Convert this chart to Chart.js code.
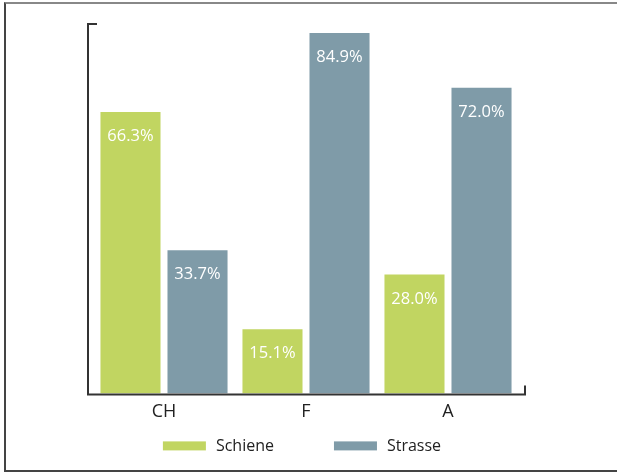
<!DOCTYPE html>
<html>
<head>
<meta charset="utf-8">
<script src="https://cdn.jsdelivr.net/npm/chart.js@4"></script>
<style>
  html, body { margin: 0; padding: 0; background: #fff; overflow: hidden; width: 617px; height: 472px; }
  #frame {
    position: absolute; left: 4px; top: 2px; width: 613px; height: 466px;
    border-left: 2px solid #444; border-top: 2px solid #888; border-bottom: 2px solid #444;
  }
  #wrap { position: absolute; left: 0; top: 0; width: 617px; height: 472px; }
</style>
</head>
<body>
<div id="frame"></div>
<div id="wrap"><canvas id="productChart" width="617" height="472"></canvas></div>
<script>
// Daten
const categories = ['CH', 'F', 'A'];
const schieneValues = [66.3, 15.1, 28.0];
const strasseValues = [33.7, 84.9, 72.0];
const seriesNames = ['Schiene', 'Strasse'];

document.addEventListener('DOMContentLoaded', function() {
    // Achsenlinien mit Endstrichen, Prozentwerte in den Balken und Legende
    const axisAndLabels = {
        id: 'axisAndLabels',
        afterDatasetsDraw(chart) {
            const ctx = chart.ctx;
            const a = chart.chartArea;
            const l = a.left - 5, r = a.right + 6, b = a.bottom + 1;
            ctx.save();
            ctx.strokeStyle = '#333';
            ctx.lineWidth = 2;
            ctx.beginPath();
            ctx.moveTo(l + 9, a.top);
            ctx.lineTo(l, a.top);
            ctx.lineTo(l, b);
            ctx.lineTo(r, b);
            ctx.lineTo(r, b - 9);
            ctx.stroke();

            // Werte
            ctx.fillStyle = '#fff';
            ctx.font = '16.5px "Open Sans"';
            ctx.textAlign = 'center';
            ctx.textBaseline = 'alphabetic';
            chart.data.datasets.forEach((ds, i) => {
                chart.getDatasetMeta(i).data.forEach((bar, j) => {
                    ctx.fillText(ds.data[j].toFixed(1) + '%', bar.x, bar.y + 29);
                });
            });

            // Legende
            const boxW = 43, boxH = 9, gapText = 10, gapItem = 60;
            ctx.font = '16px "Open Sans"';
            ctx.textAlign = 'left';
            const widths = chart.data.datasets.map(ds => boxW + gapText + ctx.measureText(ds.label).width);
            const total = widths.reduce((s, w) => s + w, 0) + gapItem * (widths.length - 1);
            let x = (a.left + a.right) / 2 - total / 2 - 4;
            const y = b + 47;
            chart.data.datasets.forEach((ds, i) => {
                ctx.fillStyle = ds.backgroundColor;
                ctx.fillRect(x, y, boxW, boxH);
                ctx.fillStyle = '#222';
                ctx.fillText(ds.label, x + boxW + gapText, y + 10);
                x += widths[i] + gapItem;
            });
            ctx.restore();
        }
    };

    const ctx = document.getElementById('productChart').getContext('2d');
    new Chart(ctx, {
        type: 'bar',
        data: {
            labels: categories,
            datasets: [{
                label: seriesNames[0],
                data: schieneValues,
                backgroundColor: '#c1d561'
            }, {
                label: seriesNames[1],
                data: strasseValues,
                backgroundColor: '#7f9ba8'
            }]
        },
        options: {
            responsive: false,
            animation: false,
            layout: { padding: { left: 93, right: 98, top: 24, bottom: 41 } },
            categoryPercentage: 0.944,
            barPercentage: 0.896,
            plugins: {
                tooltip: { enabled: false },
                legend: { display: false }
            },
            scales: {
                x: {
                    grid: { display: false, drawTicks: false },
                    border: { display: false },
                    ticks: { color: '#222', padding: 8, font: { family: 'Open Sans', size: 18 } }
                },
                y: {
                    display: false,
                    min: 0,
                    max: 87
                }
            }
        },
        plugins: [axisAndLabels]
    });
});
</script>
</body>
</html>
